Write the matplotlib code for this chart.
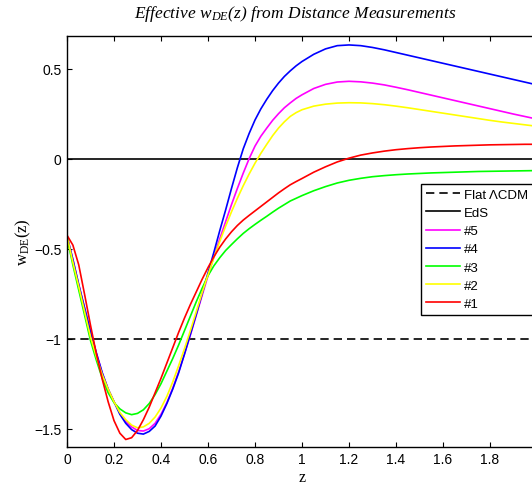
import matplotlib
matplotlib.use("Agg")
import matplotlib.pyplot as plt

plt.rcParams['font.family'] = ['Liberation Sans', 'DejaVu Sans']
plt.rcParams['mathtext.fontset'] = 'custom'
plt.rcParams['mathtext.rm'] = 'Liberation Serif'
plt.rcParams['mathtext.it'] = 'Liberation Serif:italic'

# redshift grid the curves were read at
z = [0, 0.025, 0.05, 0.075, 0.1, 0.125, 0.15, 0.175, 0.2, 0.225, 0.25, 0.275,
     0.3, 0.325, 0.35, 0.375, 0.4, 0.425, 0.45, 0.475, 0.5, 0.525, 0.55, 0.575,
     0.6, 0.625, 0.65, 0.675, 0.7, 0.725, 0.75, 0.775, 0.8, 0.825, 0.85, 0.875,
     0.9, 0.925, 0.95, 0.975, 1.0,
     1.05, 1.1, 1.15, 1.2, 1.25, 1.3, 1.35, 1.4, 1.45,
     1.5, 1.55, 1.6, 1.65, 1.7, 1.75, 1.8, 1.85, 1.9, 1.95, 2.0]

w5 = [-0.43, -0.56, -0.70, -0.83, -0.96, -1.08, -1.19, -1.28, -1.35, -1.415, -1.46, -1.49,
      -1.51, -1.513, -1.50, -1.47, -1.42, -1.355, -1.275, -1.185, -1.085, -0.98, -0.87, -0.76,
      -0.65, -0.545, -0.445, -0.35, -0.255, -0.165, -0.08, 0.0, 0.07, 0.125, 0.17, 0.213,
      0.25, 0.283, 0.31, 0.335, 0.355,
      0.39, 0.413, 0.426, 0.43, 0.427, 0.42, 0.41, 0.397, 0.383,
      0.368, 0.353, 0.338, 0.323, 0.308, 0.293, 0.278, 0.263, 0.248, 0.234, 0.22]

w4 = [-0.43, -0.56, -0.70, -0.83, -0.96, -1.08, -1.19, -1.28, -1.35, -1.42, -1.47, -1.505,
      -1.525, -1.53, -1.515, -1.485, -1.43, -1.36, -1.28, -1.19, -1.085, -0.975, -0.865, -0.75,
      -0.635, -0.52, -0.40, -0.285, -0.165, -0.05, 0.055, 0.14, 0.215, 0.277, 0.33, 0.378,
      0.42, 0.457, 0.488, 0.516, 0.54,
      0.58, 0.61, 0.628, 0.632, 0.628, 0.618, 0.605, 0.59, 0.575,
      0.56, 0.545, 0.53, 0.515, 0.50, 0.485, 0.47, 0.455, 0.44, 0.425, 0.41]

w3 = [-0.44, -0.59, -0.73, -0.87, -1.01, -1.12, -1.22, -1.30, -1.355, -1.39, -1.412, -1.422,
      -1.415, -1.395, -1.36, -1.31, -1.25, -1.18, -1.11, -1.035, -0.955, -0.875, -0.795, -0.72,
      -0.65, -0.595, -0.55, -0.51, -0.477, -0.445, -0.415, -0.389, -0.365, -0.342, -0.32, -0.297,
      -0.275, -0.255, -0.235, -0.22, -0.205,
      -0.178, -0.155, -0.135, -0.12, -0.109, -0.1, -0.094, -0.089, -0.085,
      -0.082, -0.079, -0.077, -0.075, -0.073, -0.071, -0.07, -0.069, -0.068, -0.067, -0.066]

w2 = [-0.43, -0.575, -0.71, -0.85, -0.99, -1.10, -1.20, -1.28, -1.35, -1.41, -1.45, -1.48,
      -1.495, -1.49, -1.47, -1.435, -1.385, -1.32, -1.24, -1.15, -1.055, -0.955, -0.85, -0.745,
      -0.645, -0.55, -0.46, -0.375, -0.295, -0.22, -0.15, -0.085, -0.025, 0.03, 0.08, 0.128,
      0.17, 0.205, 0.235, 0.256, 0.272,
      0.292, 0.303, 0.309, 0.311, 0.31, 0.306, 0.3, 0.292, 0.283,
      0.273, 0.263, 0.253, 0.243, 0.233, 0.223, 0.213, 0.204, 0.196, 0.188, 0.18]

w1 = [-0.425, -0.48, -0.59, -0.755, -0.925, -1.085, -1.225, -1.35, -1.455, -1.525, -1.56, -1.55,
      -1.51, -1.45, -1.38, -1.30, -1.22, -1.135, -1.05, -0.965, -0.885, -0.81, -0.74, -0.67,
      -0.605, -0.545, -0.492, -0.446, -0.406, -0.371, -0.341, -0.315, -0.29, -0.265, -0.24, -0.215,
      -0.19, -0.167, -0.145, -0.127, -0.11,
      -0.075, -0.045, -0.018, 0.003, 0.02, 0.032, 0.042, 0.05, 0.056,
      0.061, 0.065, 0.068, 0.071, 0.073, 0.075, 0.077, 0.078, 0.079, 0.08, 0.08]

w_lcdm = -1.0
w_eds = 0.0

xticks = [0, 0.2, 0.4, 0.6, 0.8, 1.0, 1.2, 1.4, 1.6, 1.8, 2.0]
xticklabels = ['0', '0.2', '0.4', '0.6', '0.8', '1', '1.2', '1.4', '1.6', '1.8', '']
yticks = [-1.5, -1.0, -0.5, 0.0, 0.5]
yticklabels = ['\u22121.5', '\u22121', '\u22120.5', '0', '0.5']

fig = plt.figure(figsize=(5.32, 4.85), dpi=100)
ax = fig.add_axes([67 / 532, 1 - 447.7 / 485, (537 - 67) / 532, (447.7 - 37.3) / 485])

lw = 1.2
ax.plot(z, [w_lcdm] * len(z), color='black', ls=(0, (5, 3)), lw=lw, label='Flat \u039bCDM')
ax.plot(z, [w_eds] * len(z), color='black', lw=lw, label='EdS')
ax.plot(z, w5, color=(1, 0, 1), lw=lw, label='#5')
ax.plot(z, w4, color=(0, 0, 1), lw=lw, label='#4')
ax.plot(z, w3, color=(0, 1, 0), lw=lw, label='#3')
ax.plot(z, w2, color=(1, 1, 0), lw=lw, label='#2')
ax.plot(z, w1, color=(1, 0, 0), lw=lw, label='#1')

ax.set_xlim(0, 2)
ax.set_ylim(-1.6, 0.68)
ax.set_xticks(xticks)
ax.set_xticklabels(xticklabels)
ax.set_yticks(yticks)
ax.set_yticklabels(yticklabels)
ax.tick_params(direction='in', length=3.3, width=0.8, labelsize=10,
               top=True, right=True, pad=4)
for s in ax.spines.values():
    s.set_linewidth(1.0)

ax.set_xlabel('z', family='Liberation Serif', fontsize=11.5, labelpad=2)
ax.set_ylabel(r'w$_{\rm DE}$(z)', family='Liberation Serif', fontsize=12, labelpad=1)
fig.text(295 / 532, 1 - 14 / 485, r'Effective w$_{DE}$(z) from Distance Measurements',
         family='Liberation Serif', style='italic', fontsize=12.5, ha='center', va='center')

leg = ax.legend(loc='upper left', bbox_to_anchor=(421 / 532, 1 - 185 / 485),
                bbox_transform=fig.transFigure, borderaxespad=0, fancybox=False,
                framealpha=1, edgecolor='black', fontsize=9.5, handlelength=2.6,
                handletextpad=0.3, labelspacing=0.45, borderpad=0.35)
leg.get_frame().set_linewidth(1.0)

fig.savefig('out.png', dpi=100)
